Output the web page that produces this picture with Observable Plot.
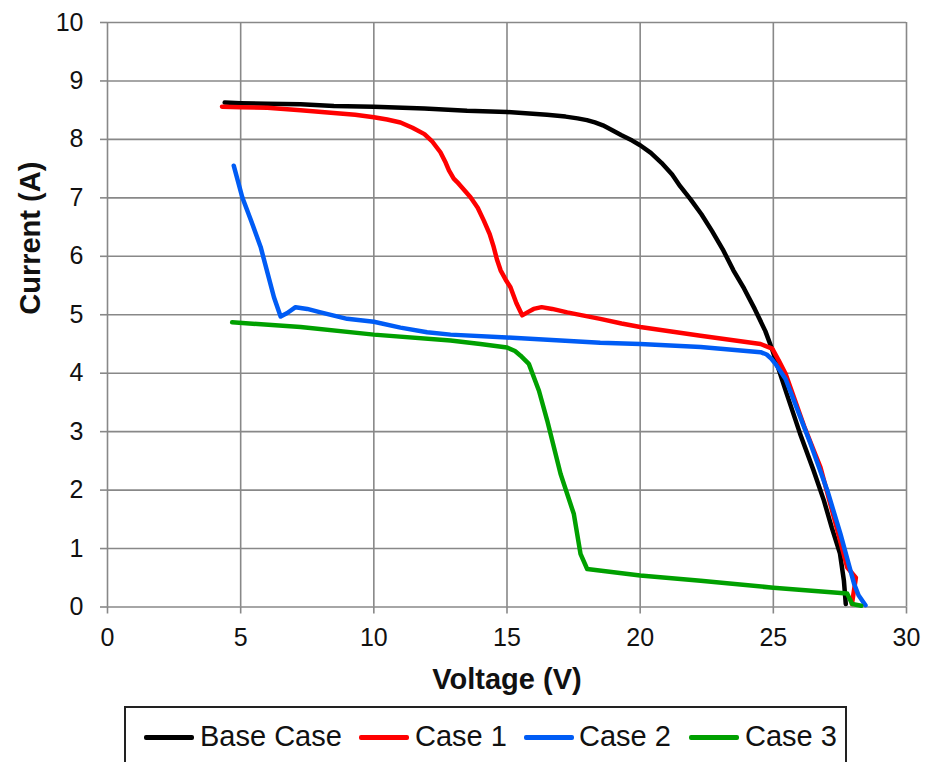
<!DOCTYPE html>
<html>
<head>
<meta charset="utf-8">
<script src="https://cdn.jsdelivr.net/npm/d3@7"></script>
<script src="https://cdn.jsdelivr.net/npm/@observablehq/plot@0.6"></script>
<style>
  html, body { margin: 0; padding: 0; background: #fff; overflow: hidden; }
  #wrap { position: relative; width: 936px; height: 762px; font-family: "Liberation Sans", Arial, sans-serif; }
  #legend { position: absolute; left: 124px; top: 706px; width: 723px; height: 80px; border: 2px solid #222; box-sizing: border-box; }
  .sw { position: absolute; height: 5px; top: 27px; border-radius: 2px; }
  .lt { position: absolute; top: 12px; font-size: 29px; line-height: 32px; color: #111; white-space: nowrap; }
</style>
</head>
<body>
<div id="wrap"><div id="chart"></div><div id="legend"></div></div>
<script>
// ---- data (Voltage V, Current A) ----
const baseCase = [
  [4.4,8.63],[5,8.62],[6,8.61],[7.25,8.6],[8.5,8.57],[10,8.56],[11.9,8.53],[13.5,8.49],
  [15,8.47],[16.5,8.42],[17.2,8.39],[17.65,8.36],[18.0,8.33],[18.3,8.29],[18.6,8.24],[18.9,8.17],
  [19.3,8.07],[19.7,7.98],[20,7.9],[20.4,7.77],[20.8,7.6],[21.2,7.4],[21.5,7.2],[21.9,6.97],
  [22.3,6.72],[22.7,6.43],[23.1,6.12],[23.5,5.76],[23.9,5.45],[24.3,5.1],[24.7,4.72],[24.96,4.4],
  [25.5,3.65],[26.0,2.97],[26.5,2.35],[26.9,1.82],[27.2,1.35],[27.5,0.92],[27.65,0.45],[27.72,0.05]
];
const case1 = [
  [4.3,8.56],[5,8.55],[6,8.54],[7.25,8.5],[8.5,8.45],[9.3,8.42],[10,8.38],[10.5,8.34],[11,8.29],
  [11.45,8.2],[11.9,8.09],[12.2,7.96],[12.5,7.78],[12.7,7.6],[12.82,7.47],[13.0,7.33],[13.13,7.27],
  [13.4,7.13],[13.63,7.01],[13.9,6.83],[14.13,6.61],[14.35,6.38],[14.5,6.16],[14.62,5.95],[14.76,5.76],
  [14.95,5.6],[15.13,5.47],[15.35,5.2],[15.57,4.99],[15.8,5.05],[16.0,5.1],[16.3,5.13],[16.7,5.1],
  [17.26,5.04],[18.5,4.93],[19.3,4.85],[20,4.79],[22.27,4.64],[24.52,4.5],[24.96,4.42],[25.2,4.22],
  [25.46,3.99],[26.15,3.1],[26.77,2.39],[27.27,1.54],[27.77,0.68],[28.1,0.5],[27.95,0.05]
];
const case2 = [
  [4.74,7.55],[5.06,7.01],[5.4,6.6],[5.75,6.16],[6.25,5.3],[6.5,4.97],[6.75,5.03],[7.06,5.13],
  [7.5,5.1],[8,5.04],[9,4.93],[10,4.88],[11,4.78],[12,4.7],[12.88,4.66],[15,4.61],[18.5,4.52],[20,4.5],
  [22.27,4.45],[24.52,4.36],[24.75,4.32],[24.92,4.25],[25.08,4.16],[25.46,3.9],[26.4,2.79],[27.03,1.99],
  [27.52,1.25],[28.03,0.4],[28.2,0.2],[28.46,0.03]
];
const case3 = [
  [4.68,4.87],[7.25,4.79],[10,4.66],[12.88,4.56],[14,4.5],[15,4.44],[15.3,4.38],[15.51,4.3],[15.82,4.16],
  [16.2,3.7],[16.51,3.19],[17.01,2.28],[17.51,1.59],[17.76,0.91],[18.01,0.65],[20,0.54],
  [22.27,0.45],[25,0.33],[27.77,0.23],[27.96,0.05],[28.3,0.02]
];
const seriesNames = ["Base Case", "Case 1", "Case 2", "Case 3"];
const seriesColors = ["#000000", "#ff0000", "#005cf5", "#00a000"];
const xTicks = [0, 5, 10, 15, 20, 25, 30];
const yTicks = [0, 1, 2, 3, 4, 5, 6, 7, 8, 9, 10];
const xTitle = "Voltage (V)";
const yTitle = "Current (A)";

const allSeries = [baseCase, case1, case2, case3];
const font = "'Liberation Sans', Arial, sans-serif";

const chart = Plot.plot({
  width: 936,
  height: 700,
  marginLeft: 107,
  marginRight: 30,
  marginTop: 22,
  marginBottom: 93.5,
  style: { fontFamily: font, color: "#111", background: "#fff", overflow: "visible" },
  x: { domain: [0, 30] },
  y: { domain: [0, 10] },
  marks: [
    Plot.gridX(xTicks, { stroke: "#888", strokeOpacity: 1, strokeWidth: 1.6 }),
    Plot.gridY(yTicks, { stroke: "#888", strokeOpacity: 1, strokeWidth: 1.6 }),
    Plot.axisX(xTicks, { tickSize: 7, tickPadding: 14.5, stroke: "#888", strokeWidth: 1.6, fill: "#111", fontSize: 25, label: null, tickFormat: d => String(d) }),
    Plot.axisY(yTicks, { tickSize: 7, tickPadding: 17, stroke: "#888", strokeWidth: 1.6, fill: "#111", fontSize: 25, label: null, tickFormat: d => String(d) }),
    ...allSeries.map((s, i) => Plot.line(s, {
      x: d => d[0], y: d => d[1],
      stroke: seriesColors[i], strokeWidth: 4.5,
      strokeLinejoin: "round", strokeLinecap: "round"
    })),
    Plot.text([xTitle], { frameAnchor: "bottom", dy: 73, lineAnchor: "middle", fontSize: 29, fontWeight: "bold", fill: "#111" }),
    Plot.text([yTitle], { frameAnchor: "left", dx: -77, rotate: -90, lineAnchor: "middle", fontSize: 29, fontWeight: "bold", fill: "#111" })
  ]
});
document.getElementById("chart").appendChild(chart);

// legend (HTML, built from the series arrays)
const legendPos = [[18, 74], [233, 289], [398, 453], [563, 619]];
const legend = document.getElementById("legend");
seriesNames.forEach((name, i) => {
  const sw = document.createElement("div");
  sw.className = "sw";
  sw.style.left = legendPos[i][0] + "px";
  sw.style.width = "50px";
  sw.style.background = seriesColors[i];
  legend.appendChild(sw);
  const t = document.createElement("span");
  t.className = "lt";
  t.style.left = legendPos[i][1] + "px";
  t.textContent = name;
  legend.appendChild(t);
});
</script>
</body>
</html>
